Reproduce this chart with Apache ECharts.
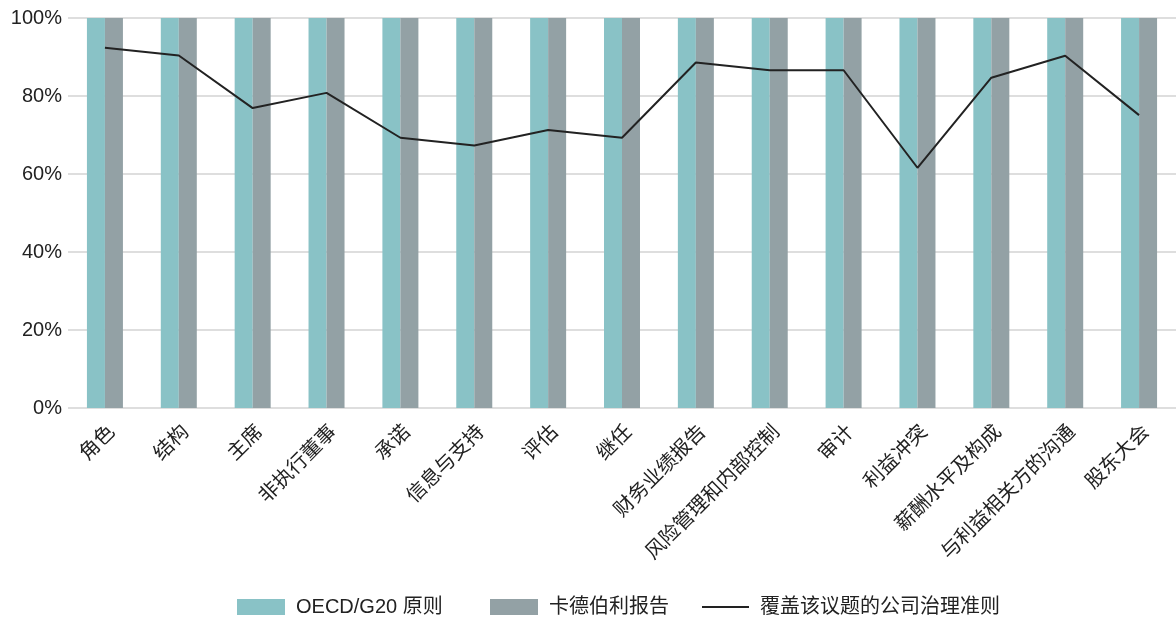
<!DOCTYPE html>
<html>
<head>
<meta charset="utf-8">
<script src="https://cdn.jsdelivr.net/npm/echarts@6/dist/echarts.min.js"></script>
<style>
html,body{margin:0;padding:0;background:#fff;}
#chart{width:1176px;height:620px;}
</style>
</head>
<body>
<div id="chart"></div>
<script>
const categories = ['角色','结构','主席','非执行董事','承诺','信息与支持','评估','继任','财务业绩报告','风险管理和内部控制','审计','利益冲突','薪酬水平及构成','与利益相关方的沟通','股东大会'];
const oecdValues = [100,100,100,100,100,100,100,100,100,100,100,100,100,100,100];
const cadburyValues = [100,100,100,100,100,100,100,100,100,100,100,100,100,100,100];
const coverageValues = [92.4,90.4,76.9,80.8,69.3,67.3,71.3,69.3,88.6,86.6,86.6,61.6,84.7,90.3,75.1];
const seriesNames = ['OECD/G20 原则','卡德伯利报告','覆盖该议题的公司治理准则'];

const FONT = '"Liberation Sans", "Noto Sans CJK SC", sans-serif';
const legendBase = {
  top: 597,
  itemWidth: 48, itemHeight: 16,
  padding: 0,
  textStyle: { fontSize: 20, color: '#222', fontFamily: FONT, padding: [0, 0, 0, 6] }
};
const chart = echarts.init(document.getElementById('chart'));
chart.setOption({
  animation: false,
  backgroundColor: '#fff',
  textStyle: { fontFamily: FONT, color: '#222' },
  grid: { left: 68, right: 0, top: 18, bottom: 212, containLabel: false },
  legend: [
    Object.assign({}, legendBase, { left: 237, data: [{ name: seriesNames[0], icon: 'rect' }] }),
    Object.assign({}, legendBase, { left: 490, data: [{ name: seriesNames[1], icon: 'rect' }] }),
    Object.assign({}, legendBase, { left: 701, itemWidth: 47, data: [{ name: seriesNames[2], itemStyle: { opacity: 0 } }] })
  ],
  xAxis: {
    type: 'category',
    data: categories,
    axisLine: { show: false },
    axisTick: { show: false },
    axisLabel: { rotate: 45, fontSize: 20, color: '#222', margin: 14, interval: 0,
      verticalAlign: 'top', fontFamily: FONT }
  },
  yAxis: {
    type: 'value',
    min: 0, max: 100, interval: 20,
    axisLabel: { formatter: '{value}%', fontSize: 20, color: '#222', margin: 6, fontFamily: FONT },
    splitLine: { lineStyle: { color: '#d3d3d3', width: 1.5 } },
    axisLine: { show: false },
    axisTick: { show: false }
  },
  series: [
    { name: seriesNames[0], type: 'bar', data: oecdValues, barWidth: 18, barGap: '0%',
      itemStyle: { color: '#89c2c6' }, z: 1 },
    { name: seriesNames[1], type: 'bar', data: cadburyValues, barWidth: 18,
      itemStyle: { color: '#93a1a5' }, z: 1 },
    { name: seriesNames[2], type: 'line', data: coverageValues, symbol: 'none',
      lineStyle: { color: '#222', width: 2 }, itemStyle: { color: '#222' }, z: 5 }
  ]
});
</script>
</body>
</html>
